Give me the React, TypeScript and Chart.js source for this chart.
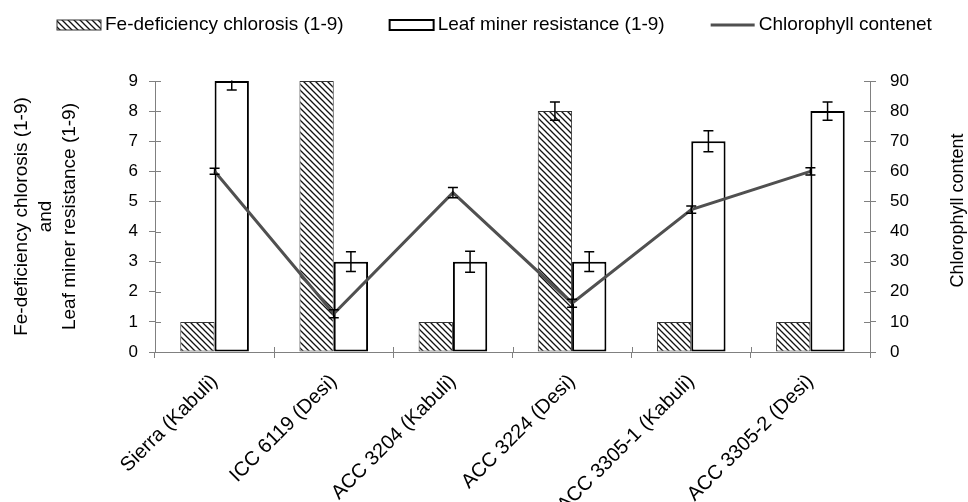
import React, { useEffect, useRef } from 'react';
import { Chart, registerables } from 'chart.js';

Chart.register(...registerables);

// ---------- data ----------
const categories = [
  'Sierra (Kabuli)',
  'ICC 6119 (Desi)',
  'ACC 3204 (Kabuli)',
  'ACC 3224 (Desi)',
  'ACC 3305-1 (Kabuli)',
  'ACC 3305-2 (Desi)',
];
const feChlorosis = [1, 9, 1, 8, 1, 1];
const feChlorosisErr = [0, 0, 0, 0.3, 0, 0];
const leafMiner = [9, 3, 3, 3, 7, 8];
const leafMinerErr = [0.3, 0.33, 0.35, 0.33, 0.35, 0.3];
const chlorophyll = [60, 12.7, 52.9, 16.2, 47.3, 60];
const chlorophyllErr = [1, 1.3, 1.7, 1.3, 1.2, 1.2];

const seriesLabels = [
  'Fe-deficiency chlorosis (1-9)',
  'Leaf miner resistance (1-9)',
  'Chlorophyll contenet',
];
const leftAxisTitle = ['Fe-deficiency chlorosis (1-9)', 'and', 'Leaf miner resistance (1-9)'];
const rightAxisTitle = 'Chlorophyll content';
const leftAxisRange = [0, 9, 1];
const rightAxisRange = [0, 90, 10];

const FONT = '"Liberation Sans", Arial, Helvetica, sans-serif';
const AXIS_GRAY = '#808080';
const LINE_GRAY = '#505050';

function makeHatch(ctx: CanvasRenderingContext2D) {
  const p = 6;
  const c = document.createElement('canvas');
  c.width = p;
  c.height = p;
  const g = c.getContext('2d')!;
  g.fillStyle = '#ffffff';
  g.fillRect(0, 0, p, p);
  g.strokeStyle = '#111111';
  g.lineWidth = 1.3;
  g.beginPath();
  g.moveTo(-1, -1);
  g.lineTo(p + 1, p + 1);
  g.moveTo(-1, p - 1);
  g.lineTo(1, p + 1);
  g.moveTo(p - 1, -1);
  g.lineTo(p + 1, 1);
  g.stroke();
  return ctx.createPattern(c, 'repeat');
}

const errorBarPlugin = {
  id: 'errorBars',
  afterDatasetsDraw(chart: any) {
    const { ctx, chartArea: a } = chart;
    ctx.save();
    ctx.beginPath();
    ctx.rect(a.left, a.top - 0.5, a.right - a.left, a.bottom - a.top + 1);
    ctx.clip();
    ctx.strokeStyle = '#000000';
    ctx.lineWidth = 1.5;
    chart.data.datasets.forEach((ds: any, di: number) => {
      const errs = ds.errors as number[] | undefined;
      if (!errs) return;
      const meta = chart.getDatasetMeta(di);
      const scale = chart.scales[meta.yAxisID];
      meta.data.forEach((el: any, i: number) => {
        const e = errs[i];
        if (!e) return;
        const v = ds.data[i];
        const x = el.x;
        const y1 = scale.getPixelForValue(v + e);
        const y2 = scale.getPixelForValue(v - e);
        ctx.beginPath();
        ctx.moveTo(x, y1);
        ctx.lineTo(x, y2);
        ctx.moveTo(x - 5, y1);
        ctx.lineTo(x + 5, y1);
        ctx.moveTo(x - 5, y2);
        ctx.lineTo(x + 5, y2);
        ctx.stroke();
      });
    });
    ctx.restore();
  },
};

const innerTicksPlugin = {
  id: 'innerTicks',
  afterDraw(chart: any) {
    const { ctx, chartArea: a, scales } = chart;
    ctx.save();
    ctx.strokeStyle = AXIS_GRAY;
    ctx.lineWidth = 1;
    ctx.beginPath();
    scales.y.ticks.forEach((t: any) => {
      const y = Math.round(scales.y.getPixelForValue(t.value)) + 0.5;
      ctx.moveTo(a.left, y);
      ctx.lineTo(a.left + 6, y);
    });
    scales.y1.ticks.forEach((t: any) => {
      const y = Math.round(scales.y1.getPixelForValue(t.value)) + 0.5;
      ctx.moveTo(a.right - 6, y);
      ctx.lineTo(a.right, y);
    });
    for (let i = 0; i <= categories.length; i++) {
      const x = Math.round(scales.x.getPixelForValue(i - 0.5)) + 0.5;
      ctx.moveTo(x, a.bottom);
      ctx.lineTo(x, a.bottom - 5);
    }
    ctx.stroke();
    ctx.restore();
  },
};

const rightTitlePlugin = {
  id: 'rightTitle',
  afterDraw(chart: any) {
    const { ctx, chartArea: a } = chart;
    ctx.save();
    ctx.font = `18px ${FONT}`;
    ctx.fillStyle = '#000000';
    ctx.textAlign = 'center';
    ctx.textBaseline = 'middle';
    ctx.translate(a.right + 88, (a.top + a.bottom) / 2 - 6);
    ctx.rotate(-Math.PI / 2);
    ctx.fillText(rightAxisTitle, 0, 0);
    ctx.restore();
  },
};

const legendPlugin = {
  id: 'customLegend',
  afterDraw(chart: any) {
    const { ctx } = chart;
    ctx.save();
    ctx.font = `19px ${FONT}`;
    ctx.textBaseline = 'middle';
    ctx.textAlign = 'left';
    const y = 25;
    let x = 57;
    const boxW = 44;
    const boxH = 10;
    chart.data.datasets.forEach((ds: any) => {
      if (ds.type === 'line') {
        ctx.strokeStyle = ds.borderColor;
        ctx.lineWidth = ds.borderWidth;
        ctx.beginPath();
        ctx.moveTo(x, y);
        ctx.lineTo(x + boxW, y);
        ctx.stroke();
      } else {
        ctx.fillStyle = ds.backgroundColor;
        ctx.fillRect(x, y - boxH / 2, boxW, boxH);
        ctx.strokeStyle = ds.borderColor;
        ctx.lineWidth = ds.borderWidth;
        ctx.strokeRect(x, y - boxH / 2, boxW, boxH);
      }
      x += boxW + 4;
      ctx.fillStyle = '#000000';
      ctx.fillText(ds.label, x, y);
      x += ctx.measureText(ds.label).width + 46;
    });
    ctx.restore();
  },
};

export default function App() {
  const canvasRef = useRef<HTMLCanvasElement | null>(null);

  useEffect(() => {
    document.body.style.margin = '0';
    const canvas = canvasRef.current!;
    const ctx = canvas.getContext('2d')!;
    const hatch = makeHatch(ctx);
    Chart.defaults.font.family = FONT;
    Chart.defaults.color = '#000000';

    const chart = new Chart(ctx, {
      type: 'bar',
      data: {
        labels: categories,
        datasets: [
          {
            type: 'bar',
            label: seriesLabels[0],
            data: feChlorosis,
            errors: feChlorosisErr,
            yAxisID: 'y',
            backgroundColor: hatch,
            borderColor: '#333333',
            borderWidth: 1,
            borderSkipped: false,
            categoryPercentage: 0.576,
            barPercentage: 1,
            order: 1,
          } as any,
          {
            type: 'bar',
            label: seriesLabels[1],
            data: leafMiner,
            errors: leafMinerErr,
            yAxisID: 'y',
            backgroundColor: '#ffffff',
            borderColor: '#000000',
            borderWidth: 2,
            borderSkipped: false,
            categoryPercentage: 0.576,
            barPercentage: 1,
            order: 1,
          } as any,
          {
            type: 'line',
            label: seriesLabels[2],
            data: chlorophyll,
            errors: chlorophyllErr,
            yAxisID: 'y1',
            borderColor: LINE_GRAY,
            backgroundColor: LINE_GRAY,
            borderWidth: 3,
            pointRadius: 0,
            pointHoverRadius: 0,
            tension: 0,
            order: 0,
          } as any,
        ],
      },
      options: {
        animation: false,
        responsive: true,
        maintainAspectRatio: false,
        events: [],
        layout: { padding: { top: 81, left: 0, right: 0, bottom: 0 } },
        plugins: {
          legend: { display: false },
          tooltip: { enabled: false },
          title: { display: false },
        },
        scales: {
          x: {
            grid: {
              display: true,
              drawOnChartArea: false,
              offset: true,
              tickLength: 6,
              color: AXIS_GRAY,
            },
            border: { display: true, color: AXIS_GRAY, width: 1 },
            ticks: {
              minRotation: 45,
              maxRotation: 45,
              autoSkip: false,
              font: { size: 20 },
              color: '#000000',
              padding: 12,
            },
            afterFit: (s: any) => {
              s.height = 150;
            },
          },
          y: {
            position: 'left',
            min: leftAxisRange[0],
            max: leftAxisRange[1],
            ticks: { stepSize: leftAxisRange[2], font: { size: 17 }, color: '#000000', padding: 11 },
            grid: { drawOnChartArea: false, tickLength: 6, color: AXIS_GRAY },
            border: { display: true, color: AXIS_GRAY, width: 1 },
            title: {
              display: true,
              text: leftAxisTitle,
              font: { size: 19, lineHeight: 24 / 19 },
              color: '#000000',
              padding: { top: 10, bottom: 0 },
            },
            afterFit: (s: any) => {
              s.width = 155;
            },
          },
          y1: {
            position: 'right',
            min: rightAxisRange[0],
            max: rightAxisRange[1],
            ticks: { stepSize: rightAxisRange[2], font: { size: 17 }, color: '#000000', padding: 14 },
            grid: { drawOnChartArea: false, tickLength: 6, color: AXIS_GRAY },
            border: { display: true, color: AXIS_GRAY, width: 1 },
            afterFit: (s: any) => {
              s.width = 98;
            },
          },
        },
      } as any,
      plugins: [errorBarPlugin, innerTicksPlugin, rightTitlePlugin, legendPlugin],
    });
    return () => chart.destroy();
  }, []);

  return (
    <div style={{ width: 968, height: 502, position: 'relative' }}>
      <canvas ref={canvasRef} />
    </div>
  );
}
